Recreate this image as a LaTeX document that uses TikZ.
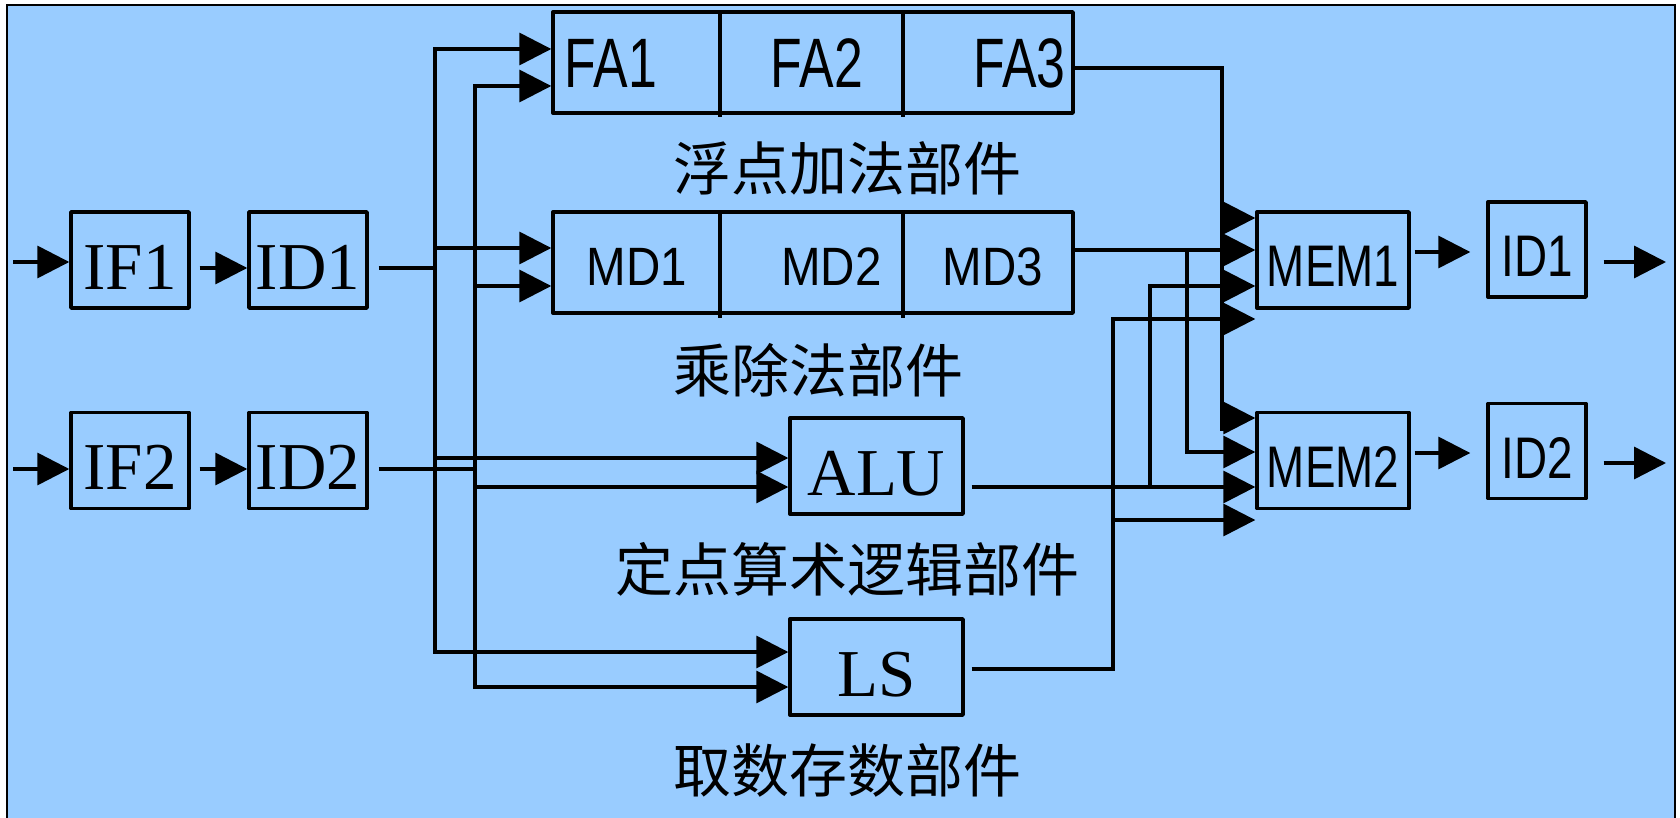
\documentclass[tikz,border=0pt]{standalone}
\usepackage{fontspec}
\usetikzlibrary{arrows.meta,calc}
\newfontfamily\serifft{Liberation Serif}
\newfontfamily\nsans[FakeStretch=0.78]{Liberation Sans}
\newfontfamily\fsans[FakeStretch=0.74]{Liberation Sans}
\newfontfamily\msans[FakeStretch=0.88]{Liberation Sans}
\newfontfamily\cjk{Noto Sans CJK SC}
\definecolor{bgblue}{HTML}{99CCFF}
\begin{document}
\begin{tikzpicture}[x=1pt,y=-1pt,
 ln/.style={line width=3.4pt,line join=miter},
 arr/.style={ln,-{Triangle[length=32pt,width=32pt]}},
 arrs/.style={ln,{Triangle[length=32pt,width=32pt]}-{Triangle[length=32pt,width=32pt]}},
 box/.style={draw,line width=3.4pt,line join=round,inner sep=0pt},
 sbox/.style={box,minimum width=118pt,minimum height=96pt,font=\serifft\fontsize{67}{67}\selectfont,text height=58pt,text depth=0pt},
 wbox/.style={sbox,minimum width=173pt},
 mbox/.style={box,minimum width=152pt,minimum height=96pt,font=\nsans\fontsize{58.7}{58.7}\selectfont,text height=54pt,text depth=0pt},
 rbox/.style={mbox,minimum width=98pt,minimum height=95pt},
 unit/.style={box,minimum width=520pt,minimum height=101pt},
 fatext/.style={anchor=base,inner sep=0pt,font=\fsans\fontsize{70}{70}\selectfont},
 mdtext/.style={anchor=base,inner sep=0pt,font=\msans\fontsize{54}{54}\selectfont},
 caption/.style={anchor=west,inner sep=0pt,font=\cjk\fontsize{58}{58}\selectfont},
]
\useasboundingbox (0,0) rectangle (1680,818);
\fill[white] (0,0) rectangle (1680,818);
\fill[bgblue] (7,5) rectangle (1675,818);
\draw[line width=2.5pt] (7,830) -- (7,5) -- (1675,5) -- (1675,830);

% boxes
\node[sbox] (if1) at (130,260) {IF1};
\node[sbox] (id1) at (308,260) {ID1};
\node[sbox] (if2) at (130,460.5) {IF2};
\node[sbox] (id2) at (308,460.5) {ID2};
\node[unit] (fa) at (813,62.5) {};
\node[unit] (md) at (813,262.5) {};
\node[wbox] (alu) at (876.5,466) {ALU};
\node[wbox] (ls) at (876.5,667) {LS};
\node[mbox] (mem1) at (1333,260) {MEM1};
\node[mbox] (mem2) at (1333,460.5) {MEM2};
\node[rbox] (wb1) at (1537,249.5) {ID1};
\node[rbox] (wb2) at (1537,451) {ID2};

% stage texts
\node[fatext] (fa1) at (611,88) {FA1};
\node[fatext] (fa2) at (817,88) {FA2};
\node[fatext] (fa3) at (1019.5,88) {FA3};
\node[mdtext] (md1) at (637,285) {MD1};
\node[mdtext] (md2) at (831.5,285) {MD2};
\node[mdtext] (md3) at (993,285) {MD3};
\foreach \x in {720,903}{
  \draw[ln] (\x,12) -- (\x,117);
  \draw[ln] (\x,212) -- (\x,318);
}

% captions
\node[caption] (lfa) at (673,168) {浮点加法部件};
\node[caption] (lmd) at (673,370) {乘除法部件};
\node[caption] (lalu) at (615,569) {定点算术逻辑部件};
\node[caption] (lls) at (673,770) {取数存数部件};

% inputs
\coordinate (in1) at (13,262);
\coordinate (in2) at (13,469);
\draw[arr] (in1) -- (in1 -| if1.west);
\draw[arr] (in2) -- (in2 -| if2.west);
\draw[arr,shorten <=9pt] (if1.east |- 0,268) -- (id1.west |- 0,268);
\draw[arr,shorten <=9pt] (if2.east |- 0,469) -- (id2.west |- 0,469);

% trunk 1 (from ID1)
\coordinate (t1) at (435,268);
\coordinate (t1a) at (435,49);
\coordinate (t1b) at (435,248);
\coordinate (t1c) at (435,458);
\coordinate (t1d) at (435,652);
\draw[ln,shorten <=10pt] (id1.east |- t1) -- (t1);
\draw[arrs] (fa.west |- t1a) -- (t1a) -- (t1d) -- (ls.west |- t1d);
\draw[arr] (t1b) -- (md.west |- t1b);
\draw[arr] (t1c) -- (alu.west |- t1c);

% trunk 2 (from ID2)
\coordinate (t2) at (475,469);
\coordinate (t2a) at (475,86);
\coordinate (t2b) at (475,286);
\coordinate (t2c) at (475,487);
\coordinate (t2d) at (475,687);
\draw[ln,shorten <=10pt] (id2.east |- t2) -- (t2);
\draw[arrs] (fa.west |- t2a) -- (t2a) -- (t2d) -- (ls.west |- t2d);
\draw[arr] (t2b) -- (md.west |- t2b);
\draw[arr] (t2c) -- (alu.west |- t2c);

% FA3 output
\coordinate (f1) at (1222,68);
\coordinate (f2) at (1222,218);
\coordinate (f3) at (1222,418);
\draw[ln] (fa.east |- f1) -- (f1) -- (1222,431);
\draw[arr] (f2) -- (mem1.west |- f2);
\draw[arr] (f3) -- (mem2.west |- f3);

% MD3 output
\coordinate (m1) at (1187,250);
\coordinate (m2) at (1187,452);
\draw[arr] (md.east |- m1) -- (mem1.west |- m1);
\draw[arr] (m1) -- (m2) -- (mem2.west |- m2);

% ALU output
\coordinate (a1) at (1150,487);
\coordinate (a2) at (1150,286);
\draw[arr,shorten <=7pt] (alu.east |- a1) -- (mem2.west |- a1);
\draw[arr] (a1) -- (a2) -- (mem1.west |- a2);

% LS output
\coordinate (l1) at (1113,669);
\coordinate (l2) at (1113,319);
\coordinate (l3) at (1113,520);
\draw[arr,shorten <=7pt] (ls.east |- l1) -- (l1) -- (l2) -- (mem1.west |- l2);
\draw[arr] (l3) -- (mem2.west |- l3);

% MEM -> ID -> out
\draw[arr,shorten <=4pt,shorten >=16pt] (mem1.east |- 0,252) -- (wb1.west |- 0,252);
\draw[arr,shorten <=4pt,shorten >=16pt] (mem2.east |- 0,453) -- (wb2.west |- 0,453);
\coordinate (o1) at (1666,262);
\coordinate (o2) at (1666,463);
\draw[arr,shorten <=16pt] (wb1.east |- o1) -- (o1);
\draw[arr,shorten <=16pt] (wb2.east |- o2) -- (o2);
\end{tikzpicture}
\end{document}
